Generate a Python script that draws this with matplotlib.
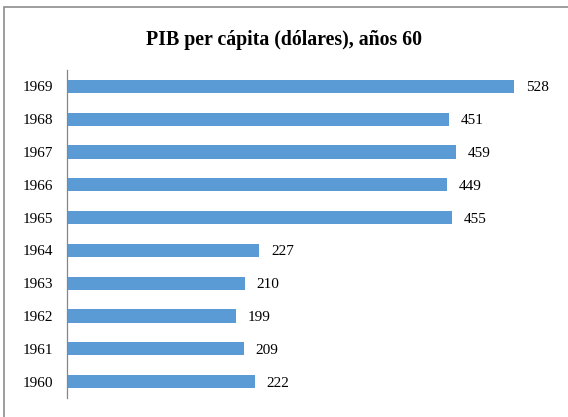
import matplotlib
matplotlib.use("Agg")
import matplotlib.pyplot as plt
from matplotlib.patches import Rectangle

years = ["1960", "1961", "1962", "1963", "1964", "1965", "1966", "1967", "1968", "1969"]
pib = [222, 209, 199, 210, 227, 455, 449, 459, 451, 528]

plt.rcParams['font.family'] = ['Liberation Serif', 'DejaVu Serif']

fig = plt.figure(figsize=(5.68, 4.17), dpi=100)
ax = fig.add_axes([67 / 568, 1 - 398 / 417, 481 / 568, 328 / 417])

bars = ax.barh(years, pib, height=0.4, color="#5B9BD5")
for b, v in zip(bars, pib):
    ax.text(v + 14, b.get_y() + b.get_height() / 2, str(v),
            va="center_baseline", ha="left", fontsize=11)

ax.set_xlim(0, 568)
ax.set_ylim(-0.5, 9.5)
ax.set_xticks([])
for s in ["top", "right", "bottom"]:
    ax.spines[s].set_visible(False)
ax.spines["left"].set_color("#868686")
ax.spines["left"].set_linewidth(0.9)
ax.tick_params(axis="y", length=0, labelsize=11, pad=10)

fig.text(284 / 568, 1 - 40 / 417, "PIB per cápita (dólares), años 60",
         ha="center", va="center", fontsize=14.3, fontweight="bold")

# chart frame
fig.patches.append(Rectangle((4 / 568, -0.1), 1.2, (1 - 7 / 417) + 0.1,
                             transform=fig.transFigure, fill=False,
                             edgecolor="#8c8c8c", linewidth=1.2))

fig.savefig("out.png", dpi=100)
